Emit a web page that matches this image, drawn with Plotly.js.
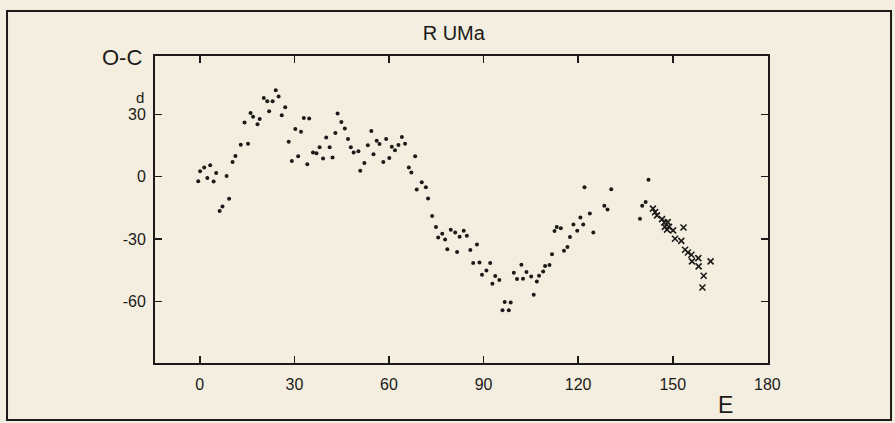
<!DOCTYPE html>
<html>
<head>
<meta charset="utf-8">
<script src="https://cdn.plot.ly/plotly-3.0.1.min.js"></script>
<style>
  html, body { margin: 0; padding: 0; background: #f3eedf; }
  #chart { width: 895px; height: 423px; }
</style>
</head>
<body>
<div id="chart"></div>
<script>
// Visual (dot) timings: cycle number E and O-C in days
const dotE = [
  -0.5, 0.1, 1.4, 2.4, 3.3, 4.4, 5.2, 6.3, 7.2, 8.5, 9.3, 10.4, 11.3, 13.0, 14.2, 15.3, 16.1, 16.9,
  18.3, 19.0, 20.3, 21.4, 22.0, 23.1, 24.1, 25.0, 26.0, 27.1, 28.2, 29.2, 30.3, 31.2,
  32.1, 33.0, 34.1, 34.7, 35.9, 37.0, 38.0, 39.1, 40.1, 41.2, 42.1, 43.0, 43.7, 44.9, 46.0, 47.0,
  47.9, 48.8, 50.3, 50.9, 52.2, 53.3, 54.4, 55.1, 56.1, 57.0, 58.2, 59.1, 60.1, 60.9, 61.9, 63.0,
  64.1, 65.1, 66.3, 67.1, 68.3, 68.8, 70.4,
  71.7, 72.4, 73.7, 74.9, 75.6, 76.9, 77.8, 78.5, 79.6, 81.0, 81.6, 82.4, 83.7, 84.7, 85.8, 86.7,
  87.9, 88.7, 89.5, 90.9, 92.1, 92.8, 93.7, 95.0, 96.0, 96.7, 98.0, 98.6, 99.6,
  100.6, 102.0, 102.5, 103.6, 105.1, 105.9, 106.9, 107.6, 108.9, 109.5, 110.9, 111.7, 112.5, 113.2,
  114.5, 115.5, 116.6, 117.4, 118.5, 119.7, 120.7, 121.6, 122.0, 123.7, 124.8, 128.3, 129.3, 130.5,
  139.6, 140.3, 141.4, 142.3
];
const dotOC = [
  -2.2, 2.6, 4.4, -0.6, 5.5, -2.3, 1.8, -16.5, -14.3, 0.4, -10.6, 7.1, 10.0, 15.4, 26.1, 15.9, 30.6, 28.8,
  25.2, 27.7, 37.8, 36.2, 31.5, 36.3, 41.5, 38.6, 29.5, 33.4, 16.8, 7.6, 22.9, 9.8,
  21.6, 28.2, 6.0, 28.0, 11.6, 11.3, 14.1, 8.7, 18.9, 14.1, 9.2, 21.0, 30.4, 26.3, 23.2, 18.1,
  14.1, 11.6, 12.2, 2.9, 6.6, 15.1, 22.0, 10.8, 17.3, 15.7, 7.1, 18.1, 9.0, 14.4, 12.7, 15.2,
  19.1, 15.9, 4.4, 2.0, 9.8, -6.2, -2.6,
  -5.0, -10.5, -18.9, -24.2, -29.2, -27.4, -30.2, -34.9, -25.5, -26.8, -36.2, -28.9, -26.0, -28.4, -35.2, -41.5,
  -32.6, -41.2, -47.1, -45.0, -41.5, -51.4, -47.7, -49.6, -64.2, -60.2, -64.2, -60.4, -46.1,
  -49.1, -42.3, -49.0, -45.8, -48.0, -56.7, -50.3, -47.6, -45.5, -42.9, -42.4, -37.3, -26.1, -24.2,
  -24.7, -35.6, -33.8, -29.0, -23.0, -26.0, -19.6, -23.0, -5.0, -17.7, -26.8, -13.9, -15.8, -6.0,
  -20.2, -13.9, -12.2, -1.5
];
// Photoelectric / recent timings (crosses)
const crossE = [
  143.7, 144.4, 145.0, 146.6, 147.3, 147.5, 148.2, 148.4, 148.8, 150.1, 150.7, 152.7, 153.4,
  153.9, 154.8, 155.9, 156.1, 158.1, 158.2, 159.4, 159.8, 162.0
];
const crossOC = [
  -15.3, -17.0, -18.6, -20.4, -22.0, -24.1, -25.4, -21.8, -24.1, -25.8, -29.8, -30.8, -24.4,
  -35.1, -36.4, -37.5, -40.7, -39.1, -43.1, -53.2, -47.6, -40.7
];
const xTicks = [0, 30, 60, 90, 120, 150, 180];
const xTickText = ['0', '30', '60', '90', '120', '150', '180'];
const yTicks = [-60, -30, 0, 30];
const yTickText = ['-60', '-30', '0', '30'];

const ink = '#1c1a18';
const font = 'Liberation Sans, Arial, Helvetica, sans-serif';

const traces = [
  {
    x: dotE, y: dotOC, type: 'scatter', mode: 'markers',
    marker: { symbol: 'circle', size: 4, color: ink },
    hoverinfo: 'x+y', showlegend: false
  },
  {
    x: crossE, y: crossOC, type: 'scatter', mode: 'markers',
    marker: { symbol: 'x-thin', size: 6, color: ink, line: { color: ink, width: 1.6 } },
    hoverinfo: 'x+y', showlegend: false
  }
];

const axisCommon = {
  showgrid: false, zeroline: false, showline: true, linecolor: ink, linewidth: 2,
  mirror: 'allticks', ticks: 'inside', ticklen: 7, tickwidth: 1.5, tickcolor: ink,
  tickfont: { family: font, size: 16, color: ink }, fixedrange: true
};

const layout = {
  width: 895, height: 423,
  margin: { l: 155, r: 127, t: 56, b: 60 },
  paper_bgcolor: '#f3eedf', plot_bgcolor: '#f3eedf',
  title: {
    text: 'R UMa', x: 0.507, xanchor: 'center', y: 0.922, yanchor: 'middle',
    font: { family: font, size: 20, color: ink }
  },
  xaxis: Object.assign({}, axisCommon, {
    range: [-14.2, 180.2], tickmode: 'array', tickvals: xTicks, ticktext: xTickText,
    ticklabelstandoff: 6
  }),
  yaxis: Object.assign({}, axisCommon, {
    range: [-89.5, 58], tickmode: 'array', tickvals: yTicks, ticktext: yTickText,
    ticklabelstandoff: 4
  }),
  annotations: [
    { text: 'O-C', xref: 'paper', yref: 'paper', x: -0.054, y: 0.994, xanchor: 'center', yanchor: 'middle',
      showarrow: false, font: { family: font, size: 22, color: ink } },
    { text: 'd', xref: 'paper', yref: 'paper', x: -0.0245, y: 0.866, xanchor: 'center', yanchor: 'middle',
      showarrow: false, font: { family: font, size: 15, color: ink } },
    { text: 'E', xref: 'paper', yref: 'paper', x: 0.930, y: -0.137, xanchor: 'center', yanchor: 'middle',
      showarrow: false, font: { family: font, size: 23, color: ink } }
  ],
  shapes: [
    { type: 'rect', xref: 'paper', yref: 'paper', x0: -0.2414, x1: 1.2007, y0: -0.1857, y1: 1.1466,
      line: { color: ink, width: 2 }, layer: 'above' }
  ]
};

Plotly.newPlot('chart', traces, layout, { displayModeBar: false, staticPlot: true });
</script>
</body>
</html>
